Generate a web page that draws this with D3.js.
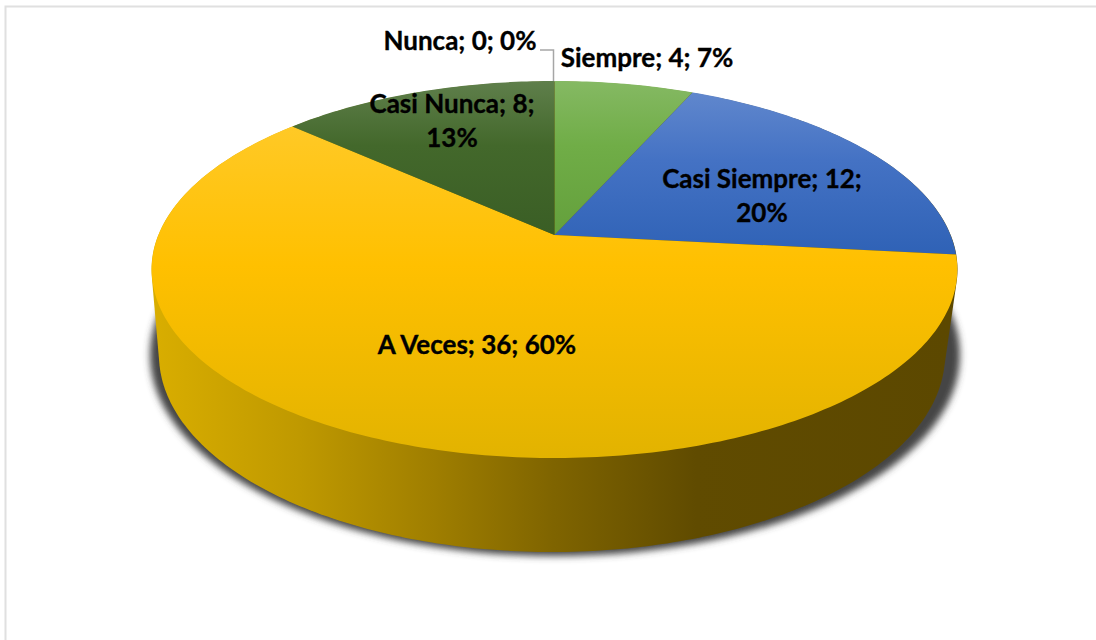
<!DOCTYPE html>
<html><head><meta charset="utf-8">
<script src="https://cdnjs.cloudflare.com/ajax/libs/d3/7.8.5/d3.min.js"></script>
<style>html,body{margin:0;padding:0;background:#fff}svg{display:block}text{font-family:Lato,"Open Sans",sans-serif;font-weight:700;font-size:26px;fill:#000;stroke:#000;stroke-width:.35px}</style>
</head><body><svg id="c" width="1096" height="640"></svg>
<script>
const categories=["Siempre","Casi Siempre","A Veces","Casi Nunca","Nunca"];
const values=[4,12,36,8,0];
const colors=["#70ad47","#4472c4","#ffc000","#43682b","#a5a5a5"];
const shadeColors=["#64a03c","#2f62b6","#e2b300","#3a5e25","#a5a5a5"];
const labelLines=[["Siempre; 4; 7%"],["Casi Siempre; 12;","20%"],["A Veces; 36; 60%"],["Casi Nunca; 8;","13%"],["Nunca; 0; 0%"]];
const labelAnchors=[[647,67],[762,188],[477,354],[452,113],[460,50]];

const svg=d3.select("#c"), defs=svg.append("defs");
const cx=554.5, cy=235, R=396, S=182.2, K=0.183;
// perspective projection of the unit disc
const project=(a,r=1)=>{const u=r*Math.sin(a),v=-r*Math.cos(a),w=1-K*v;return [cx+R*u/w,cy+S*v/w];};
const arcs=d3.pie().sort(null).value(d=>d)(values);

// frame
svg.append("path").attr("d","M5.5 640V6.5H1096").attr("fill","none").attr("stroke","#e0e0e0").attr("stroke-width",2);

// shadow
const blur=defs.append("filter").attr("id","blur").attr("x","-10%").attr("y","-10%").attr("width","120%").attr("height","120%");
blur.append("feGaussianBlur").attr("stdDeviation",3.5);
svg.append("ellipse").attr("cx",555).attr("cy",355).attr("rx",405).attr("ry",201).attr("fill","#444").attr("filter","url(#blur)");

// wall
const ell=(x,y,rx,ry)=>d3.range(0,360,1).map(d=>[x+rx*Math.cos(d*Math.PI/180),y+ry*Math.sin(d*Math.PI/180)]);
const hull=d3.polygonHull(ell(cx,269.5,403,188).concat(ell(552,355,393,197)));
const wg=defs.append("linearGradient").attr("id","wall").attr("gradientUnits","userSpaceOnUse").attr("x1",157).attr("x2",950).attr("y1",0).attr("y2",0);
[[0,"#d8ad00"],[0.18,"#bf9900"],[0.35,"#9f7e00"],[0.5,"#7f6400"],[0.68,"#604b00"],[1,"#5c4800"]].forEach(s=>wg.append("stop").attr("offset",s[0]).attr("stop-color",s[1]));
svg.append("path").attr("d","M"+hull.join("L")+"Z").attr("fill","url(#wall)");

// top surface
const line=d3.line();
arcs.forEach((a,i)=>{
  if(a.endAngle-a.startAngle<=0) return;
  const base=colors[i], id="g"+i;
  const g=defs.append("linearGradient").attr("id",id).attr("x1",0).attr("x2",0).attr("y1",0).attr("y2",1);
  g.append("stop").attr("offset",0).attr("stop-color",d3.interpolateRgb(base,"#fff")(0.15));
  g.append("stop").attr("offset",0.42).attr("stop-color",base);
  g.append("stop").attr("offset",1).attr("stop-color",shadeColors[i]);
  const n=Math.ceil((a.endAngle-a.startAngle)*60);
  const pts=[project(0,0)];
  for(let k=0;k<=n;k++) pts.push(project(a.startAngle+(a.endAngle-a.startAngle)*k/n));
  svg.append("path").attr("d",line(pts)+"Z").attr("fill",`url(#${id})`);
});

// leader for the zero slice
const tip=project(arcs[4].startAngle);
svg.append("path").attr("d",`M540 50H${tip[0]-1}V${tip[1]}`).attr("fill","none").attr("stroke","#a6a6a6").attr("stroke-width",1.5);

// labels
labelLines.forEach((ls,i)=>ls.forEach((t,j)=>{
  svg.append("text").attr("x",labelAnchors[i][0]).attr("y",labelAnchors[i][1]+j*33.5).attr("text-anchor","middle").text(t);
}));
</script></body></html>
